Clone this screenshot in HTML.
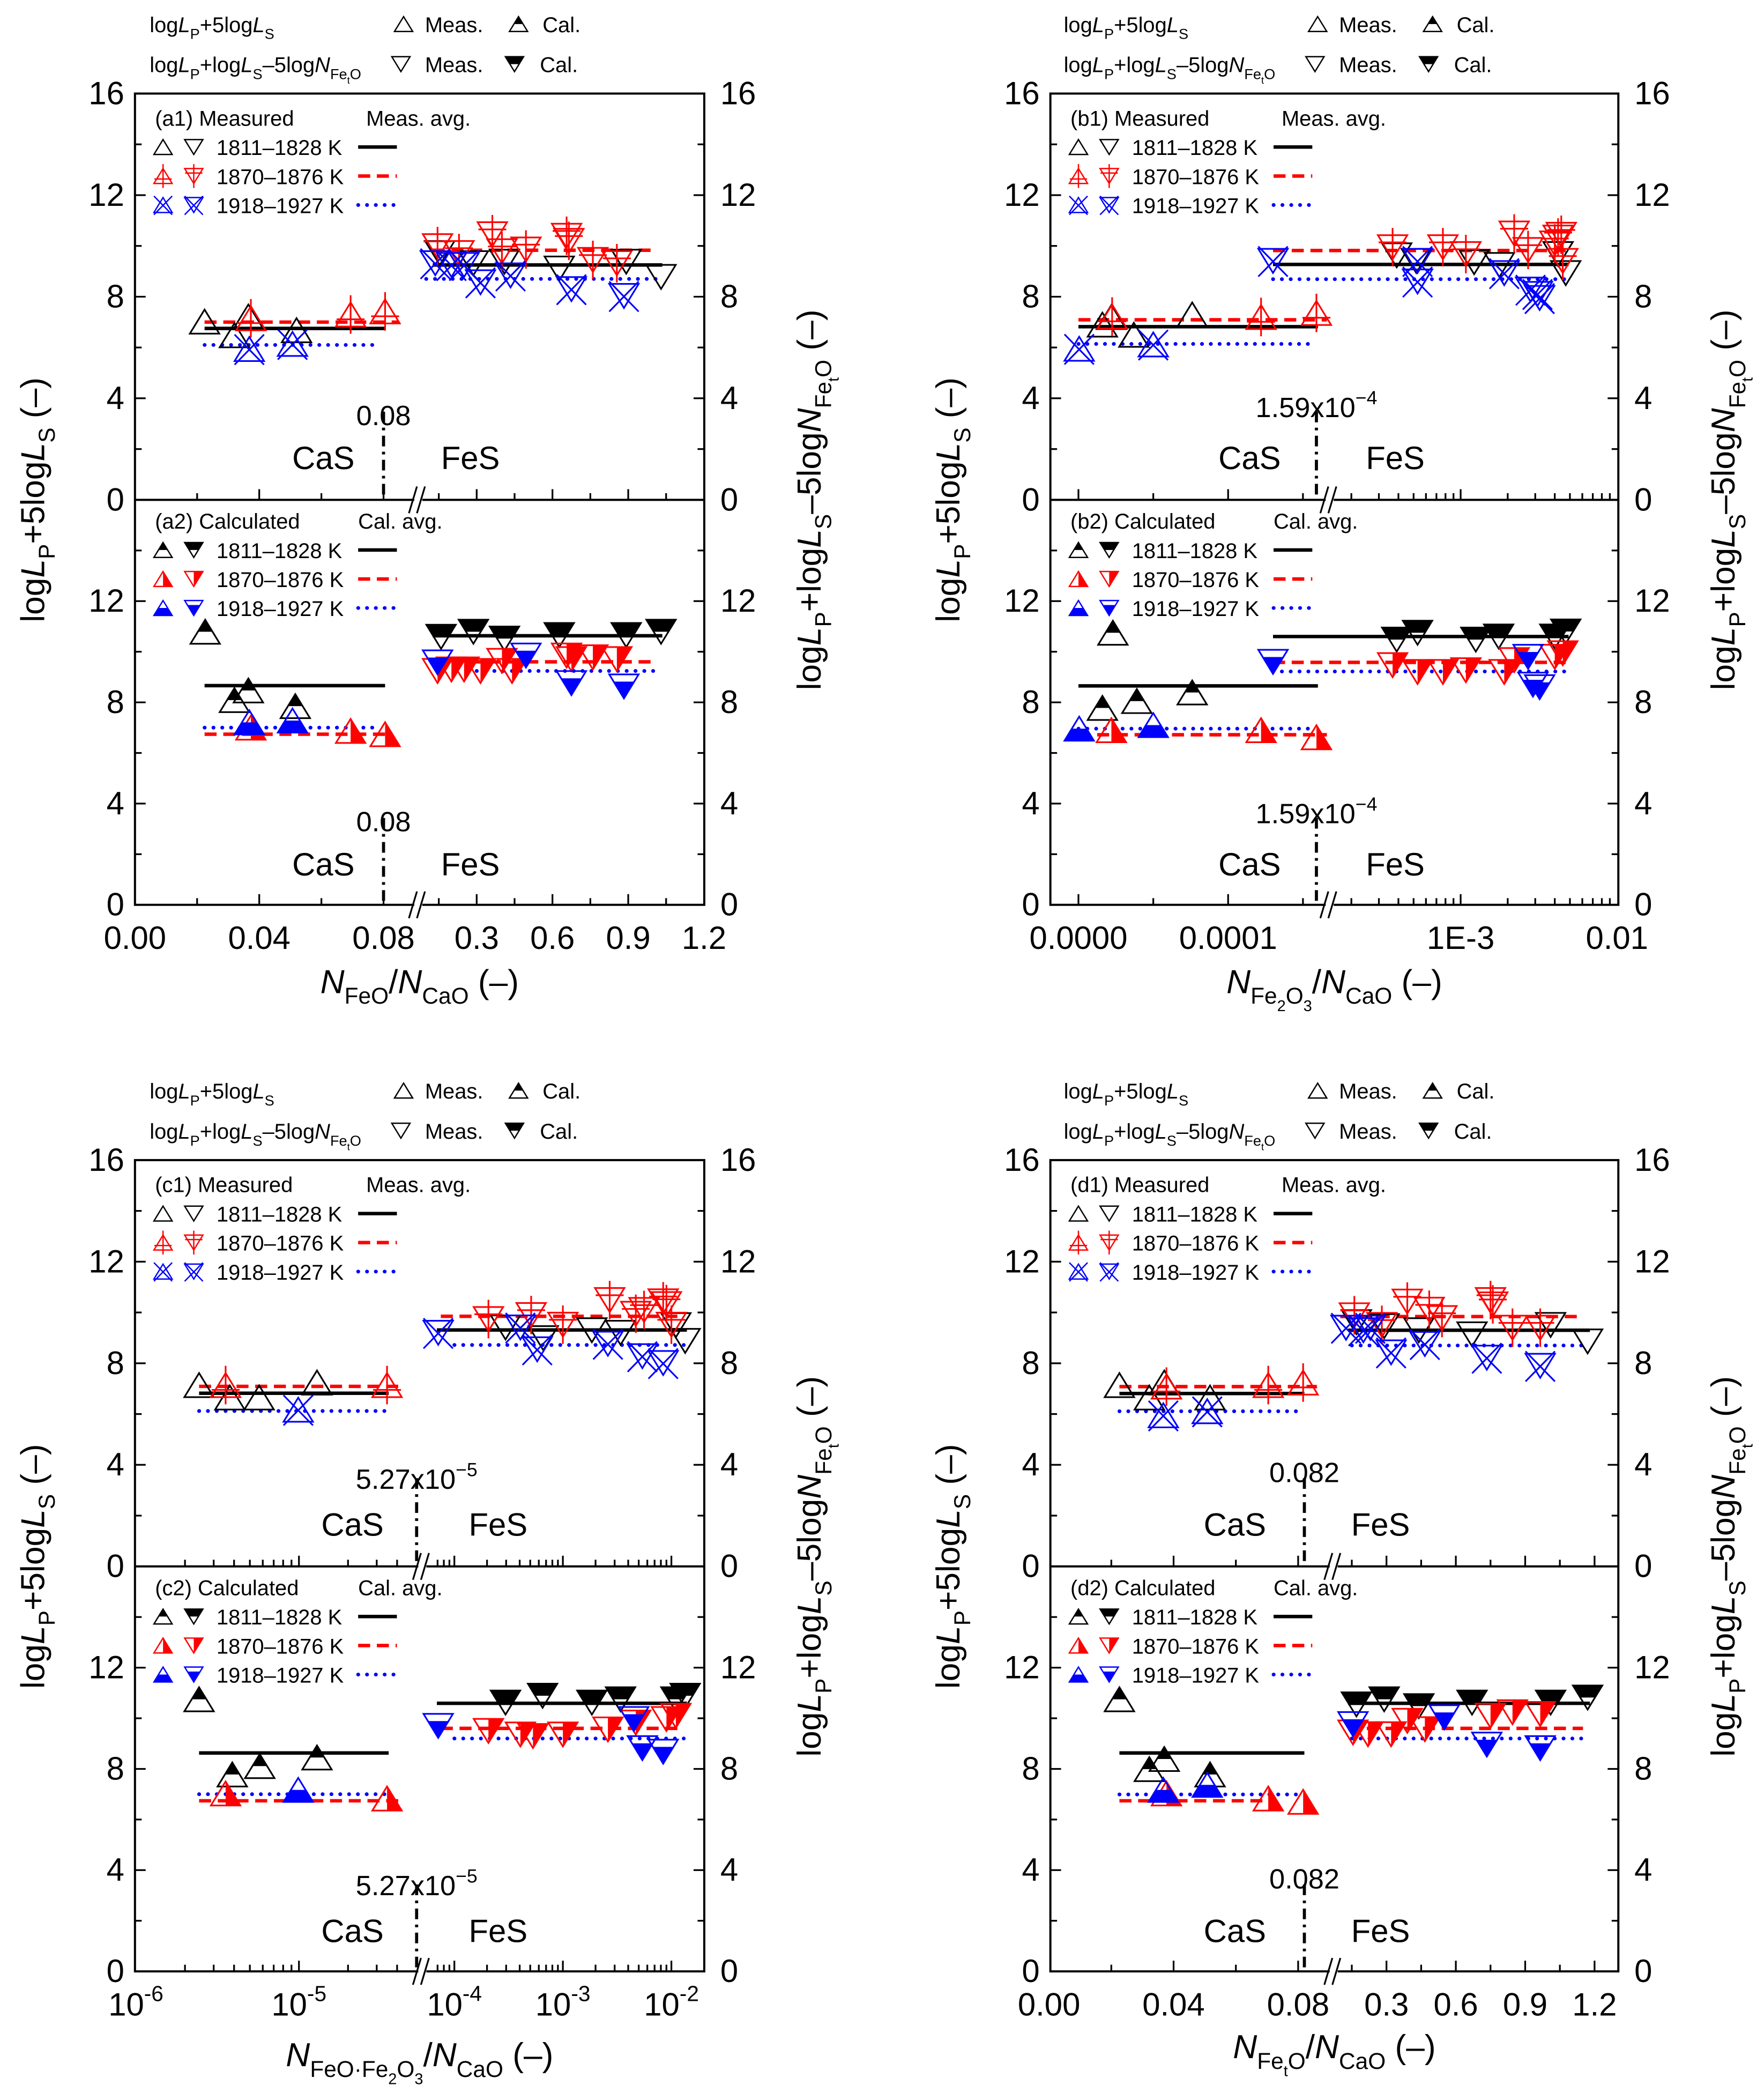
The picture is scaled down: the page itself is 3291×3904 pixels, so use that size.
<!DOCTYPE html>
<html><head><meta charset="utf-8"><style>
html,body{margin:0;padding:0;background:#fff;}
svg{display:block;font-family:"Liberation Sans Narrow","Liberation Sans",sans-serif;}
</style></head><body>
<svg id="chart" xmlns="http://www.w3.org/2000/svg" width="3291" height="3904" viewBox="0 0 1320 1566" preserveAspectRatio="none"></svg>
<script>
// ---------- data (x value, y value) ----------
const a1_up1=[[0.0224,7.02],[0.032,6.48],[0.0365,7.22],[0.052,6.68]];
const a1_up2=[[0.0373,7.15],[0.0694,7.3],[0.0805,7.42]];
const a1_up3=[[0.0368,5.94],[0.0507,6.14]];
const a1_dn1=[[0.154,9.72],[0.287,9.32],[0.41,9.38],[0.627,9.11],[0.892,9.38],[1.03,8.78]];
const a1_dn2=[[0.145,9.99],[0.23,9.72],[0.362,10.46],[0.40,9.79],[0.495,9.86],[0.656,10.4],[0.665,10.2],[0.76,9.45],[0.855,9.32]];
const a1_dn3=[[0.136,9.32],[0.2,9.25],[0.25,9.25],[0.315,8.57],[0.434,8.84],[0.675,8.3],[0.883,8.03]];
const a1_cas=[[0.0224,0.0805,6.75],[0.0224,0.085,7.0],[0.0224,0.078,6.1]];
const a1_fes=[[0.126,1.035,9.25],[0.126,1.0,9.83],[0.1,1.03,8.7]];
const a2_up1=[[0.0226,10.79],[0.032,8.09],[0.0365,8.47],[0.0516,7.85]];
const a2_up2=[[0.0373,7.0],[0.0694,6.87],[0.0805,6.74]];
const a2_up3=[[0.0368,7.21],[0.0507,7.28]];
const a2_dn1=[[0.159,10.59],[0.287,10.79],[0.41,10.52],[0.627,10.66],[0.892,10.66],[1.03,10.79]];
const a2_dn2=[[0.145,9.24],[0.2,9.3],[0.25,9.3],[0.315,9.24],[0.40,9.64],[0.44,9.24],[0.656,9.85],[0.675,9.71],[0.76,9.78],[0.855,9.71]];
const a2_dn3=[[0.145,9.58],[0.495,9.85],[0.675,8.76],[0.883,8.63]];
const a2_cas=[[0.0224,0.0805,8.66],[0.0224,0.0805,6.74],[0.0224,0.078,7.0]];
const a2_fes=[[0.126,1.035,10.63],[0.126,1.0,9.6],[0.3,1.03,9.24]];

const b1_up1=[[1.6e-5,6.9],[2.2e-5,7.2],[3.7e-5,6.5],[7.6e-5,7.3]];
const b1_up2=[[2.25e-5,7.22],[1.22e-4,7.2],[1.59e-4,7.36]];
const b1_up3=[[5e-7,5.95],[5e-5,6.12]];
const b1_dn1=[[3.9e-4,9.63],[5.2e-4,9.41],[1.22e-3,9.36],[1.77e-3,9.25],[4.2e-3,9.68],[4.7e-3,8.93]];
const b1_dn2=[[3.67e-4,9.95],[7.7e-4,9.95],[1.08e-3,9.68],[2.2e-3,10.49],[2.7e-3,9.84],[4.0e-3,10.1],[4.2e-3,10.33],[4.4e-3,10.44],[4.5e-3,9.41]];
const b1_dn3=[[1.3e-4,9.41],[5.3e-4,9.41],[5.3e-4,8.6],[1.9e-3,8.93],[2.8e-3,8.28],[3.1e-3,8.11],[3.2e-3,7.95]];
const b1_cas=[[0,1.6e-4,6.82],[0,1.66e-4,7.09],[0,1.55e-4,6.14]];
const b1_fes=[[1.3e-4,4.9e-3,9.27],[1.3e-4,4.9e-3,9.82],[1.3e-4,4.9e-3,8.69]];
const b2_up1=[[1.6e-5,7.78],[2.3e-5,10.75],[3.9e-5,8.05],[7.6e-5,8.39]];
const b2_up2=[[2.2e-5,6.9],[1.22e-4,6.9],[1.59e-4,6.62]];
const b2_up3=[[5e-7,6.96],[5e-5,7.1]];
const b2_dn1=[[3.9e-4,10.48],[5.3e-4,10.75],[1.25e-3,10.48],[1.75e-3,10.6],[4.0e-3,10.6],[4.7e-3,10.8]];
const b2_dn2=[[3.67e-4,9.47],[5.3e-4,9.2],[7.7e-4,9.2],[1.08e-3,9.27],[1.9e-3,9.2],[2.2e-3,9.67],[4.0e-3,9.8],[4.5e-3,9.94]];
const b2_dn3=[[1.3e-4,9.6],[2.7e-3,9.8],[2.9e-3,8.7],[3.2e-3,8.6]];
const b2_cas=[[0,1.6e-4,8.65],[0,1.66e-4,6.72],[0,1.55e-4,6.96]];
const b2_fes=[[1.3e-4,4.9e-3,10.6],[1.3e-4,4.9e-3,9.58],[1.3e-4,4.7e-3,9.22]];

const c1_up1=[[2.44e-6,7.14],[3.77e-6,6.65],[5.7e-6,6.65],[1.29e-5,7.24]];
const c1_up2=[[3.55e-6,7.14],[3.47e-5,7.14]];
const c1_up3=[[9.9e-6,6.17]];
const c1_dn1=[[2.96e-4,9.41],[6.6e-4,8.99],[1.85e-3,9.3],[3.4e-3,9.2],[1.1e-2,9.5],[1.34e-2,8.88]];
const c1_dn2=[[2.06e-4,9.74],[5.1e-4,9.9],[1e-3,9.52],[2.7e-3,10.49],[4.7e-3,9.95],[5.6e-3,10.1],[8.4e-3,10.44],[9e-3,10.33],[1e-2,9.52]];
const c1_dn3=[[7.1e-5,9.2],[4.06e-4,9.41],[5.8e-4,8.55],[2.6e-3,8.77],[5.4e-3,8.28],[8.4e-3,8.01]];
const c1_cas=[[2.44e-6,3.55e-5,6.82],[2.44e-6,4.2e-5,7.09],[2.44e-6,3.55e-5,6.12]];
const c1_fes=[[6.9e-5,1.39e-2,9.31],[7.5e-5,1.3e-2,9.85],[1.0e-4,1.3e-2,8.72]];
const c2_up1=[[2.44e-6,10.75],[3.9e-6,7.78],[5.75e-6,8.11],[1.29e-5,8.45]];
const c2_up2=[[3.55e-6,7.03],[3.47e-5,6.83]];
const c2_up3=[[9.9e-6,7.17]];
const c2_dn1=[[2.96e-4,10.62],[6.5e-4,10.89],[1.85e-3,10.62],[3.4e-3,10.75],[1.1e-2,10.75],[1.34e-2,10.89]];
const c2_dn2=[[2.06e-4,9.5],[4.06e-4,9.36],[5.3e-4,9.3],[1e-3,9.36],[2.6e-3,9.56],[4.7e-3,9.83],[9e-3,9.97],[1.1e-2,10.1]];
const c2_dn3=[[7.1e-5,9.7],[4.5e-3,9.97],[5.4e-3,8.82],[8.4e-3,8.68]];
const c2_cas=[[2.44e-6,3.55e-5,8.63],[2.44e-6,4.2e-5,6.74],[2.44e-6,3.55e-5,7.0]];
const c2_fes=[[6.9e-5,1.39e-2,10.59],[7.5e-5,1.3e-2,9.6],[1.0e-4,1.3e-2,9.2]];

const d1_up1=[[0.0226,7.14],[0.0322,6.65],[0.037,7.24],[0.0517,6.65]];
const d1_up2=[[0.0377,7.08],[0.0704,7.14],[0.0816,7.24]];
const d1_up3=[[0.0367,5.95],[0.0508,6.11]];
const d1_dn1=[[0.17,9.62],[0.29,9.46],[0.44,9.3],[0.67,9.14],[1.01,9.51],[1.17,8.86]];
const d1_dn2=[[0.161,9.89],[0.28,9.51],[0.39,10.43],[0.485,10.11],[0.54,9.78],[0.75,10.49],[0.76,10.32],[0.845,9.4],[0.965,9.4]];
const d1_dn3=[[0.125,9.4],[0.2,9.3],[0.23,9.4],[0.32,8.43],[0.466,8.76],[0.734,8.22],[0.965,7.9]];
const d1_cas=[[0.0226,0.082,6.81],[0.0226,0.086,7.08],[0.0226,0.082,6.11]];
const d1_fes=[[0.134,1.18,9.3],[0.1,1.15,9.84],[0.15,1.18,8.7]];
const d2_up1=[[0.0226,10.75],[0.0322,7.99],[0.037,8.39],[0.0517,7.78]];
const d2_up2=[[0.0377,7.03],[0.0704,6.83],[0.0816,6.7]];
const d2_up3=[[0.0367,7.17],[0.0508,7.37]];
const d2_dn1=[[0.17,10.55],[0.29,10.75],[0.44,10.48],[0.67,10.62],[1.01,10.62],[1.17,10.82]];
const d2_dn2=[[0.155,9.44],[0.22,9.37],[0.32,9.37],[0.39,9.9],[0.466,9.57],[0.75,10.1],[0.845,10.24],[0.965,10.17]];
const d2_dn3=[[0.155,9.77],[0.55,10.04],[0.734,8.96],[0.965,8.82]];
const d2_cas=[[0.0226,0.082,8.63],[0.0226,0.07,6.74],[0.0226,0.082,6.99]];
const d2_fes=[[0.134,1.18,10.59],[0.134,1.15,9.6],[0.15,1.18,9.2]];

const yMajorTicks=[0,4,8,12,16];
const yMinorTicks=[2,6,10,14];
const tempLabels=['1811–1828 K','1870–1876 K','1918–1927 K'];
const breakLabels=['0.08','1.59x10^{−4}','5.27x10^{−5}','0.082'];
const breakValues=[0.08,1.59e-4,5.27e-5,0.082];

// ---------- setup ----------
const NS='http://www.w3.org/2000/svg';
const svg=document.getElementById('chart');
const COL=['#000','#f00','#00f'];
function mk(tag,parent){const e=document.createElementNS(NS,tag);(parent||svg).appendChild(e);return e;}
function setA(e,o){for(const k in o)e.setAttribute(k,o[k]);return e;}
function rich(s,fs){
  let out='',buf='',size=fs,off=0,pend=0,ital=false;const st=[];
  function flush(){if(!buf)return;out+='<tspan font-size="'+size.toFixed(1)+'"'+(pend?' dy="'+pend.toFixed(2)+'"':'')+(ital?' font-style="italic"':'')+'>'+buf+'</tspan>';buf='';pend=0;}
  for(let i=0;i<s.length;i++){const c=s[i];
    if((c==='_'||c==='^')&&s[i+1]==='{'){flush();st.push([size,off]);const no=c==='_'?off+size*0.32:off-size*0.45;pend+=no-off;off=no;size=size*0.68;i++;}
    else if(c==='}'){flush();const p=st.pop();pend+=p[1]-off;off=p[1];size=p[0];}
    else if(c==='~'){flush();ital=!ital;}
    else buf+=c;}
  flush();return out;}
function txt(parent,x,y,s,fs,anchor){const t=mk('text',parent);setA(t,{x:x,y:y,'text-anchor':anchor||'start',fill:'#000'});t.innerHTML=rich(s,fs);return t;}
function line(parent,x1,y1,x2,y2,col,w,dash){const l=mk('line',parent);setA(l,{x1:x1,y1:y1,x2:x2,y2:y2,stroke:col,'stroke-width':w});if(dash){l.setAttribute('stroke-dasharray',dash);l.setAttribute('stroke-linecap',dash.startsWith('0.1')?'round':'butt');}return l;}
function poly(parent,pts,fill,stroke,w){const p=mk('polygon',parent);setA(p,{points:pts.map(q=>q[0].toFixed(2)+','+q[1].toFixed(2)).join(' '),fill:fill,stroke:stroke,'stroke-width':w||0});return p;}

function marker(parent,cx,cy,dir,t,kind,s){
  const g=mk('g',parent);
  const col=COL[t],w=11*s,h=18*s,yt=cy-h/2,yb=cy+h/2;
  const pts=dir==='up'?[[cx,yt],[cx-w,yb],[cx+w,yb]]:[[cx-w,yt],[cx+w,yt],[cx,yb]];
  if(kind==='cal'){
    let f;
    if(dir==='up'){
      if(t===0)f=[[cx,yt],[cx-w/2,cy],[cx+w/2,cy]];
      else if(t===1)f=[[cx,yt],[cx+w,yb],[cx,yb]];
      else f=[[cx-w/2,cy],[cx+w/2,cy],[cx+w,yb],[cx-w,yb]];
    }else{
      if(t===0)f=[[cx-w,yt],[cx+w,yt],[cx+w/2,cy],[cx-w/2,cy]];
      else if(t===1)f=[[cx,yt],[cx+w,yt],[cx,yb]];
      else{const yy=yt+0.3*h;f=[[cx-0.7*w,yy],[cx+0.7*w,yy],[cx,yb]];}
    }
    poly(g,f,col,'none',0);
  }
  poly(g,pts,'none',col,1.25*Math.max(s,0.8));
  if(kind==='meas'&&t===1){
    line(g,cx,cy-0.8*h,cx,cy+0.8*h,col,1.25*Math.max(s,0.8));
    const hy=dir==='up'?cy+0.2*h:cy-0.2*h;
    line(g,cx-w*0.95,hy,cx+w*0.95,hy,col,1.25*Math.max(s,0.8));
  }
  if(kind==='meas'&&t===2){
    line(g,cx-w,cy-0.6*h,cx+w,cy+0.65*h,col,1.25*Math.max(s,0.8));
    line(g,cx+w,cy-0.6*h,cx-w,cy+0.65*h,col,1.25*Math.max(s,0.8));
  }
  return g;
}
const LSTY=[['#000',2.6,null],['#f00',2.6,'9 5'],['#00f',2.8,'0.1 6.5']];

const log10=Math.log10;
const panels=[
 {id:'a',L:101,R:527,T:70,M:374,B:677,bi:0,xs:v=>v<0.095?101+v*2325:300+v*189,
  majors:[[0,'0.00'],[0.04,'0.04'],[0.08,'0.08'],[0.3,'0.3'],[0.6,'0.6'],[0.9,'0.9'],[1.2,'1.2']],
  minors:[0.02,0.06,0.15,0.45,0.75,1.05],brk:313,cas:-45,fes:65,lab:248,
  xt:'~N~_{FeO}/~N~_{CaO} (–)',xty:743,hx:101,hy:0},
 {id:'b',L:786,R:1211,T:70,M:374,B:677,bi:1,xs:v=>v<=1.7e-4?807+v*1.12e6:1093+(log10(v)+3)*117,
  majors:[[0,'0.0000'],[1e-4,'0.0001'],[1e-3,'1E-3'],[1e-2,'0.01']],
  minors:[5e-5,1.5e-4,2e-4,3e-4,4e-4,5e-4,6e-4,7e-4,8e-4,9e-4,2e-3,3e-3,4e-3,5e-3,6e-3,7e-3,8e-3,9e-3],brk:995,cas:-50,fes:59,lab:242,
  xt:'~N~_{Fe_{2}O_{3}}/~N~_{CaO} (–)',xty:743,hx:785,hy:0},
 {id:'c',L:101,R:527,T:868,M:1172,B:1475,bi:2,xs:v=>v<=5.27e-5?101.7+(log10(v)+6)*122:340+(log10(v)+4)*81.2,
  majors:[[1e-6,'10^{-6}'],[1e-5,'10^{-5}'],[1e-4,'10^{-4}'],[1e-3,'10^{-3}'],[1e-2,'10^{-2}']],
  minors:[2e-6,3e-6,4e-6,5e-6,6e-6,7e-6,8e-6,9e-6,2e-5,3e-5,4e-5,7e-5,8e-5,9e-5,2e-4,3e-4,4e-4,5e-4,6e-4,7e-4,8e-4,9e-4,2e-3,3e-3,4e-3,5e-3,6e-3,7e-3,8e-3,9e-3],brk:316,cas:-48,fes:61,lab:246,
  xt:'~N~_{FeO·Fe_{2}O_{3}}/~N~_{CaO} (–)',xty:1546,hx:101,hy:798},
 {id:'d',L:786,R:1211,T:868,M:1172,B:1475,bi:3,xs:v=>v<0.095?785+v*2330:985.6+v*173,
  majors:[[0,'0.00'],[0.04,'0.04'],[0.08,'0.08'],[0.3,'0.3'],[0.6,'0.6'],[0.9,'0.9'],[1.2,'1.2']],
  minors:[0.02,0.06,0.15,0.45,0.75,1.05],brk:998,cas:-52,fes:57,lab:241,
  xt:'~N~_{Fe_{t}O}/~N~_{CaO} (–)',xty:1540,hx:785,hy:798}
];
const SER={
 a1:[a1_up1,a1_up2,a1_up3,a1_dn1,a1_dn2,a1_dn3,a1_cas,a1_fes],a2:[a2_up1,a2_up2,a2_up3,a2_dn1,a2_dn2,a2_dn3,a2_cas,a2_fes],
 b1:[b1_up1,b1_up2,b1_up3,b1_dn1,b1_dn2,b1_dn3,b1_cas,b1_fes],b2:[b2_up1,b2_up2,b2_up3,b2_dn1,b2_dn2,b2_dn3,b2_cas,b2_fes],
 c1:[c1_up1,c1_up2,c1_up3,c1_dn1,c1_dn2,c1_dn3,c1_cas,c1_fes],c2:[c2_up1,c2_up2,c2_up3,c2_dn1,c2_dn2,c2_dn3,c2_cas,c2_fes],
 d1:[d1_up1,d1_up2,d1_up3,d1_dn1,d1_dn2,d1_dn3,d1_cas,d1_fes],d2:[d2_up1,d2_up2,d2_up3,d2_dn1,d2_dn2,d2_dn3,d2_cas,d2_fes]};

const H1='log~L~_{P}+5log~L~_{S}';
const H2='log~L~_{P}+log~L~_{S}–5log~N~_{Fe_{t}O}';
const YL='log~L~_{P}+5log~L~_{S} (–)';
const YR='log~L~_{P}+log~L~_{S}–5log~N~_{Fe_{t}O} (–)';

panels.forEach(p=>{
  const G=mk('g');
  
  
  const hg=mk('g',G);
  
  
  const hx=p.hx,hy=p.hy;
  txt(hg,hx+11,hy+24,H1,16);
  marker(hg,hx+201,hy+18,'up',0,'meas',0.62);
  txt(hg,hx+217,hy+24,'Meas.',16);
  marker(hg,hx+287,hy+18,'up',0,'cal',0.62);
  txt(hg,hx+305,hy+24,'Cal.',16);
  txt(hg,hx+11,hy+54,H2,16);
  marker(hg,hx+199,hy+48,'dn',0,'meas',0.62);
  txt(hg,hx+217,hy+54,'Meas.',16);
  marker(hg,hx+284,hy+48,'dn',0,'cal',0.62);
  txt(hg,hx+303,hy+54,'Cal.',16);

  const halves=[{n:1,top:p.T,bot:p.M,name:'Measured',avg:'Meas. avg.',kind:'meas'},{n:2,top:p.M,bot:p.B,name:'Calculated',avg:'Cal. avg.',kind:'cal'}];
  halves.forEach(hf=>{
    const ys=v=>hf.top+(16-v)*(hf.bot-hf.top)/16;
    const key=p.id+hf.n;const S=SER[key];
    const sg=mk('g',G);
    
    
    yMajorTicks.forEach(v=>{
      const y=ys(v);
      line(sg,p.L,y,p.L+8,y,'#000',1.3);line(sg,p.R-8,y,p.R,y,'#000',1.3);
      if(hf.n===2&&v===16)return;
      const l=txt(sg,p.L-8,y+8,String(v),24,'end');
      
      const r=txt(sg,p.R+12,y+8,String(v),24,'start');
      
    });
    yMinorTicks.forEach(v=>{const y=ys(v);line(sg,p.L,y,p.L+5,y,'#000',1.3);line(sg,p.R-5,y,p.R,y,'#000',1.3);});
    p.majors.forEach(m=>{const x=p.xs(m[0]);if(x>p.L+1&&x<p.R-1)line(sg,x,hf.bot,x,hf.bot-8,'#000',1.3);});
    p.minors.forEach(v=>{const x=p.xs(v);line(sg,x,hf.bot,x,hf.bot-5,'#000',1.3);});
    const bx=p.xs(breakValues[p.bi]);
    line(sg,bx,hf.top+238,bx,hf.bot,'#000',2.3,'8 4 2 4');
    const bl=txt(sg,bx,hf.top+p.lab,breakLabels[p.bi],21,'middle');
    
    const cl=txt(sg,bx+p.cas,hf.top+281,'CaS',24,'middle');
    
    const fl=txt(sg,bx+p.fes,hf.top+281,'FeS',24,'middle');
    
    [S[6],S[7]].forEach((arr,gi)=>{arr.forEach((a,t)=>{
      const l=line(sg,p.xs(a[0]),ys(a[2]),p.xs(a[1]),ys(a[2]),LSTY[t][0],LSTY[t][1],LSTY[t][2]);
      
      
    });});
    for(let t=0;t<3;t++){
      S[t].forEach(d=>{const m=marker(sg,p.xs(d[0]),ys(d[1]),'up',t,hf.kind,1);
        
        });
      S[3+t].forEach(d=>{const m=marker(sg,p.xs(d[0]),ys(d[1]),'dn',t,hf.kind,1);
        
        });
    }
    const lg=mk('g',sg);
    
    
    const o=hf.n===1?0:-2.5;
    txt(lg,p.L+15,hf.top+24+o,'('+p.id+hf.n+') '+hf.name,16);
    txt(lg,p.L+(hf.n===1?173:167),hf.top+24+o,hf.avg,16);
    [40,61.7,83.4].forEach((dy,t)=>{
      const cy=hf.top+dy+o;
      marker(lg,p.L+21,cy,'up',t,hf.kind,0.62);
      marker(lg,p.L+44,cy,'dn',t,hf.kind,0.62);
      txt(lg,p.L+61,cy+6,tempLabels[t],16);
      line(lg,p.L+167,cy,p.L+196,cy,LSTY[t][0],LSTY[t][1],LSTY[t][2]);
    });
  });
  const fr=mk('rect',G);setA(fr,{x:p.L,y:p.T,width:p.R-p.L,height:p.B-p.T,fill:'none',stroke:'#000','stroke-width':1.6});
  
  line(G,p.L,p.M,p.R,p.M,'#000',1.6);
  [p.M,p.B].forEach(y=>{
    const r=mk('rect',G);setA(r,{x:p.brk-3,y:y-2,width:6,height:4,fill:'#fff'});
    line(G,p.brk-7,y+10,p.brk-1,y-10,'#000',1.3);
    line(G,p.brk-1,y+10,p.brk+5,y-10,'#000',1.3);
  });
  p.majors.forEach(m=>{const l=txt(G,p.xs(m[0]),p.B+33,m[1],24,'middle');
    });
  const xt=txt(G,(p.L+p.R)/2,p.xty,p.xt,25,'middle');
  
  const ly=txt(G,p.L-68,p.M,YL,25,'middle');ly.setAttribute('transform','rotate(-90 '+(p.L-68)+' '+p.M+')');
  
  const ry=txt(G,p.R+87,p.M,YR,25,'middle');ry.setAttribute('transform','rotate(-90 '+(p.R+87)+' '+p.M+')');
  
});
</script>
</body></html>
